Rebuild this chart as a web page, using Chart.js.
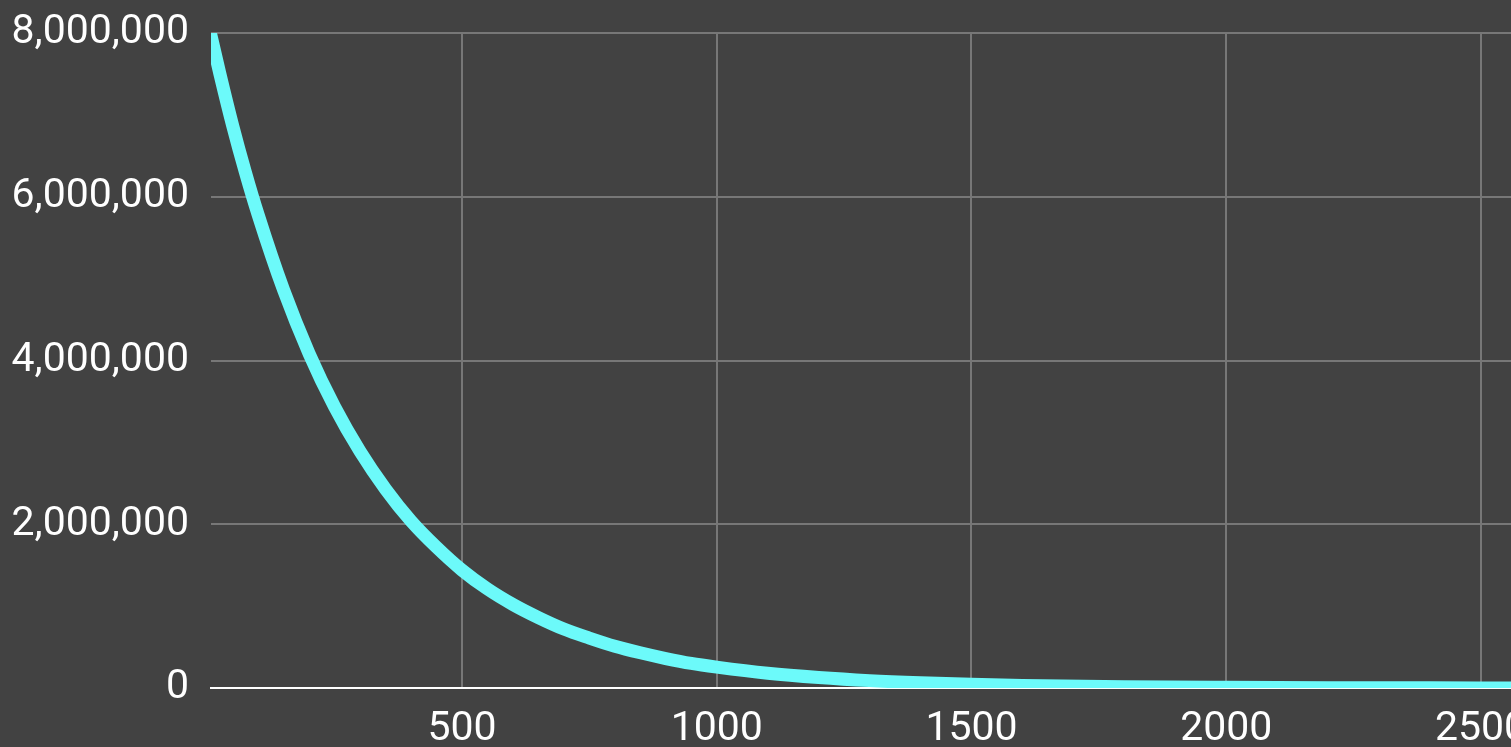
<!DOCTYPE html>
<html>
<head>
<meta charset="utf-8">
<script src="https://cdn.jsdelivr.net/npm/chart.js@4.4.1/dist/chart.umd.min.js"></script>
<style>
  html, body { margin: 0; padding: 0; background: #424242; overflow: hidden; }
  #wrap { position: relative; width: 1600px; height: 747px; }
</style>
</head>
<body>
<div id="wrap"><canvas id="decay-chart"></canvas></div>
<script>
// values
var xValues = [0, 25, 50, 75, 100, 150, 200, 250, 300, 350, 400, 450, 500, 550, 600, 650,
    700, 750, 800, 850, 900, 950, 1000, 1100, 1200, 1300, 1400, 1500, 1600, 1800, 2000,
    2200, 2400, 2600];
var yValues = [8170000, 7500000, 6870000, 6300000, 5780000, 4860000, 4085000, 3435000,
    2890000, 2430000, 2040000, 1720000, 1440000, 1210000, 1020000, 860000,
    720000, 610000, 510000, 430000, 360000, 300000, 255000, 180000, 128000, 90000,
    64000, 45000, 32000, 16000, 8000, 4000, 2000, 1000];
var xTicks = [500, 1000, 1500, 2000, 2500];
var yTicks = [0, 2000000, 4000000, 6000000, 8000000];

var points = xValues.map(function (x, i) {
    return {x: x, y: yValues[i]};
});

var gridColor = '#777777';
var tickFont = {family: 'Roboto', size: 41};

var ctx = document.getElementById('decay-chart');
var chart = new Chart(ctx, {
    type: 'line',
    data: {
        datasets: [{
            data: points,
            borderColor: 'rgb(108, 250, 250)',
            borderWidth: 13,
            pointRadius: 0,
            cubicInterpolationMode: 'monotone',
            clip: 0,
            fill: false
        }]
    },
    options: {
        responsive: true,
        maintainAspectRatio: false,
        animation: false,
        events: [],
        layout: {
            padding: {top: 33, right: 68, bottom: 0, left: 0}
        },
        plugins: {
            legend: {display: false},
            tooltip: {enabled: false}
        },
        scales: {
            x: {
                type: 'linear',
                min: 7.5,
                max: 2600,
                afterBuildTicks: function (scale) {
                    scale.ticks = xTicks.map(function (v) { return {value: v}; });
                },
                afterFit: function (scale) {
                    scale.height = 59;
                    scale.paddingLeft = 0;
                    scale.paddingRight = 0;
                },
                grid: {color: gridColor, lineWidth: 2, drawTicks: false},
                border: {display: true, color: '#ffffff', width: 2},
                ticks: {
                    color: '#ffffff',
                    font: tickFont,
                    padding: 17,
                    maxRotation: 0,
                    autoSkip: false,
                    callback: function (v) { return String(v); }
                }
            },
            y: {
                min: 0,
                max: 8000000,
                afterBuildTicks: function (scale) {
                    scale.ticks = yTicks.map(function (v) { return {value: v}; });
                },
                afterFit: function (scale) {
                    scale.width = 211;
                    scale.paddingTop = 0;
                    scale.paddingBottom = 0;
                },
                grid: {color: gridColor, lineWidth: 2, drawTicks: false},
                border: {display: false},
                ticks: {
                    color: '#ffffff',
                    font: tickFont,
                    padding: 22,
                    callback: function (v) { return v.toLocaleString('en-US'); }
                }
            }
        }
    }
});
</script>
</body>
</html>
